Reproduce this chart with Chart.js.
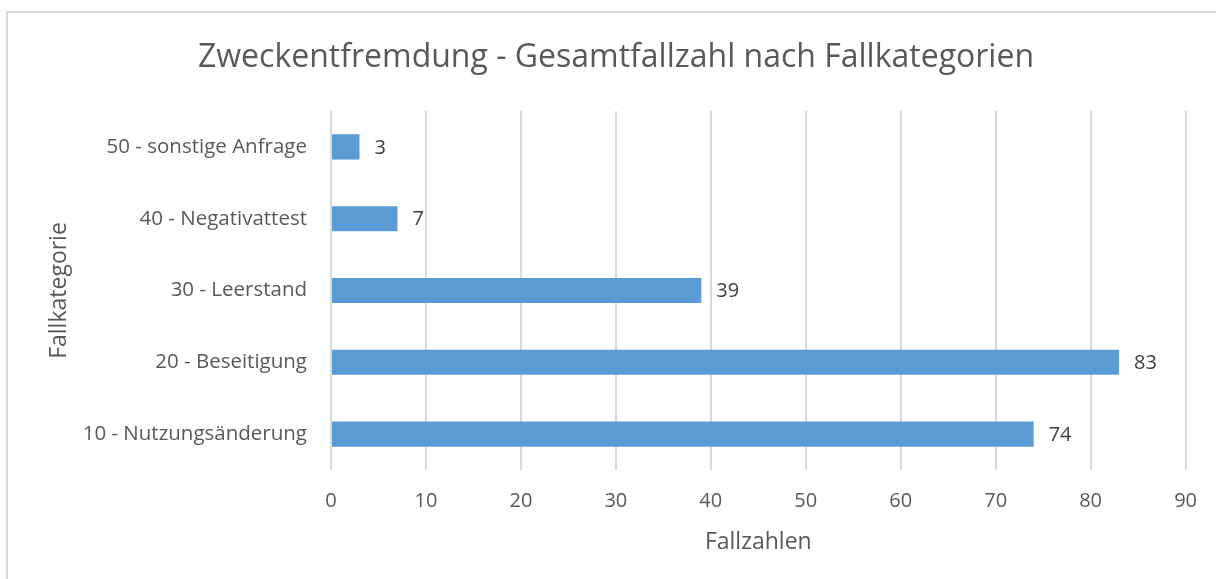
<!DOCTYPE html>
<html>
<head>
<meta charset="utf-8">
<script src="https://cdn.jsdelivr.net/npm/chart.js@4"></script>
<style>
  html, body { margin: 0; padding: 0; background: #ffffff; overflow: hidden; }
  #wrap { position: absolute; left: 0; top: 0; width: 1216px; height: 579px; }
  #frame { position: absolute; left: 6px; top: 11px; width: 1300px; height: 700px; border: 2px solid #d9d9d9; box-sizing: border-box; pointer-events: none; }
</style>
</head>
<body>
<div id="wrap"><canvas id="c"></canvas></div>
<div id="frame"></div>
<script>
const titleText = "Zweckentfremdung - Gesamtfallzahl nach Fallkategorien";
const categories = ["10 - Nutzungsänderung", "20 - Beseitigung", "30 - Leerstand", "40 - Negativattest", "50 - sonstige Anfrage"];
const fallzahlen = [74, 83, 39, 7, 3];
const xTickValues = [0, 10, 20, 30, 40, 50, 60, 70, 80, 90];
const xAxisTitle = "Fallzahlen";
const yAxisTitle = "Fallkategorie";

const FONT = "'Open Sans', sans-serif";

const valueLabels = {
  id: 'valueLabels',
  afterDatasetsDraw(chart) {
    const ctx = chart.ctx;
    const meta = chart.getDatasetMeta(0);
    ctx.save();
    ctx.font = "20px " + FONT;
    ctx.fillStyle = "#404040";
    ctx.textAlign = "left";
    ctx.textBaseline = "middle";
    meta.data.forEach((bar, i) => {
      ctx.fillText(String(chart.data.datasets[0].data[i]), bar.x + 15, bar.y + 1);
    });
    ctx.restore();
  }
};

new Chart(document.getElementById('c'), {
  type: 'bar',
  data: {
    labels: categories,
    datasets: [{
      data: fallzahlen,
      backgroundColor: '#5B9BD5',
      borderWidth: 0,
      categoryPercentage: 1,
      barPercentage: 0.35
    }]
  },
  plugins: [valueLabels],
  options: {
    indexAxis: 'y',
    responsive: true,
    maintainAspectRatio: false,
    animation: false,
    layout: { padding: { left: 46, right: 30, top: 0, bottom: 0 } },
    plugins: {
      legend: { display: false },
      tooltip: { enabled: false },
      title: {
        display: true,
        text: titleText,
        color: '#595959',
        font: { family: FONT, size: 32, weight: 'normal', lineHeight: 1.2 },
        padding: { top: 39, bottom: 33.6 }
      }
    },
    scales: {
      x: {
        min: 0, max: 90,
        afterBuildTicks(scale) { scale.ticks = xTickValues.map(v => ({ value: v })); },
        afterFit(scale) { scale.height = 109; },
        grid: { color: '#d9d9d9', lineWidth: 2, drawTicks: false },
        border: { display: false },
        ticks: { color: '#595959', font: { family: FONT, size: 20 }, padding: 19 },
        title: {
          display: true, text: xAxisTitle, color: '#595959',
          font: { family: FONT, size: 23, lineHeight: 1.2 },
          padding: { top: 0, bottom: 23 }
        }
      },
      y: {
        reverse: true,
        afterFit(scale) { scale.width = 285; },
        grid: { display: false, drawTicks: false },
        border: { display: false },
        ticks: { color: '#595959', font: { family: FONT, size: 20.5 }, padding: 24 },
        title: {
          display: true, text: yAxisTitle, color: '#595959',
          font: { family: FONT, size: 23, lineHeight: 1.2 },
          padding: { top: 0, bottom: 0 }
        }
      }
    }
  }
});
</script>
</body>
</html>
